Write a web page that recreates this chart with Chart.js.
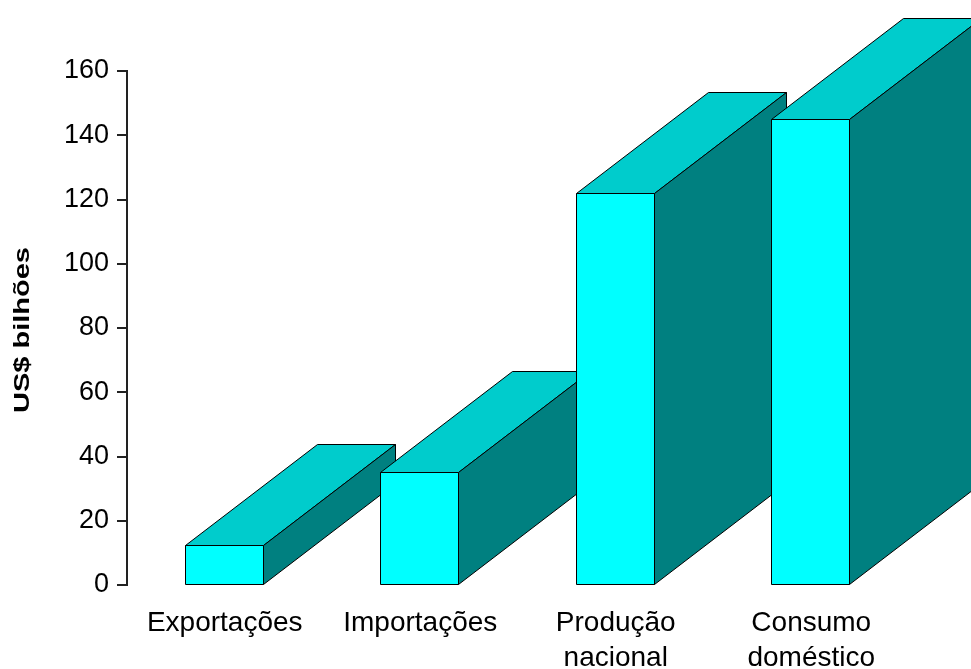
<!DOCTYPE html>
<html><head><meta charset="utf-8">
<script src="https://cdn.jsdelivr.net/npm/chart.js@4"></script>
<style>html,body{margin:0;padding:0;background:#fff;overflow:hidden}#wrap{width:971px;height:669px;position:relative}</style>
</head><body><div id="wrap"><canvas id="c"></canvas></div>
<script>
// ---- data ----
const categories = [['Exportações'], ['Importações'], ['Produção', 'nacional'], ['Consumo', 'doméstico']];
const values = [12.4, 35.3, 122, 145.1];
const yTitle = 'US$ bilhões';
const yMin = 0, yMax = 160, yStep = 20;

// ---- style ----
const FONT = "'Liberation Sans', Arial, sans-serif";
const DEPTH_X = 132, DEPTH_Y = -101;
const FRONT = '#00FFFF', TOP = '#00CCCC', SIDE = '#008080', EDGE = '#000000';

function poly(ctx, pts, fill) {
  ctx.beginPath();
  ctx.moveTo(pts[0][0], pts[0][1]);
  for (let i = 1; i < pts.length; i++) ctx.lineTo(pts[i][0], pts[i][1]);
  ctx.closePath();
  ctx.fillStyle = fill; ctx.fill();
  ctx.strokeStyle = EDGE; ctx.lineWidth = 1; ctx.stroke();
}

const bars3d = {
  id: 'bars3d',
  afterDatasetsDraw(chart) {
    const ctx = chart.ctx;
    const meta = chart.getDatasetMeta(0);
    ctx.save();
    meta.data.forEach(el => {
      const x0 = Math.round(el.x - el.width / 2) - 0.5;
      const x1 = Math.round(el.x + el.width / 2) - 0.5;
      const yt = Math.round(el.y) + 0.5;
      const yb = Math.round(el.base) + 0.5;
      poly(ctx, [[x0, yt], [x0 + DEPTH_X, yt + DEPTH_Y], [x1 + DEPTH_X, yt + DEPTH_Y], [x1, yt]], TOP);
      poly(ctx, [[x1, yt], [x1 + DEPTH_X, yt + DEPTH_Y], [x1 + DEPTH_X, yb + DEPTH_Y], [x1, yb]], SIDE);
      poly(ctx, [[x0, yt], [x1, yt], [x1, yb], [x0, yb]], FRONT);
    });
    ctx.restore();
  }
};

const yTitlePlugin = {
  id: 'yTitleStretch',
  afterDraw(chart) {
    const ctx = chart.ctx;
    ctx.save();
    ctx.font = "bold 22px " + FONT;
    ctx.fillStyle = '#000';
    ctx.textAlign = 'center';
    ctx.textBaseline = 'middle';
    const w = ctx.measureText(yTitle).width;
    const target = 166;
    ctx.translate(23, 330);
    ctx.rotate(-Math.PI / 2);
    ctx.scale(target / w, 1);
    ctx.fillText(yTitle, 0, 0);
    ctx.restore();
  }
};

new Chart(document.getElementById('c'), {
  type: 'bar',
  data: {
    labels: categories,
    datasets: [{
      data: values,
      backgroundColor: 'rgba(0,0,0,0)',
      borderWidth: 0,
      categoryPercentage: 1,
      barPercentage: 0.4
    }]
  },
  options: {
    responsive: true,
    maintainAspectRatio: false,
    animation: false,
    devicePixelRatio: 1,
    layout: { padding: { left: 0, right: 62, top: 71, bottom: 0 } },
    plugins: { legend: { display: false }, tooltip: { enabled: false }, title: { display: false } },
    scales: {
      x: {
        grid: { display: false, drawTicks: false },
        border: { display: false },
        ticks: { color: '#000', font: { family: FONT, size: 28, lineHeight: 1.25 }, padding: 21, maxRotation: 0, autoSkip: false },
        afterFit(s) { s.height = 84; }
      },
      y: {
        min: yMin, max: yMax,
        grid: { drawOnChartArea: false, tickLength: 10, color: '#222', lineWidth: 2 },
        border: { color: '#222', width: 2 },
        ticks: { stepSize: yStep, color: '#000', font: { family: FONT, size: 27 }, padding: 8 },
        afterFit(s) { s.width = 127; }
      }
    }
  },
  plugins: [bars3d, yTitlePlugin]
});
</script></body></html>
